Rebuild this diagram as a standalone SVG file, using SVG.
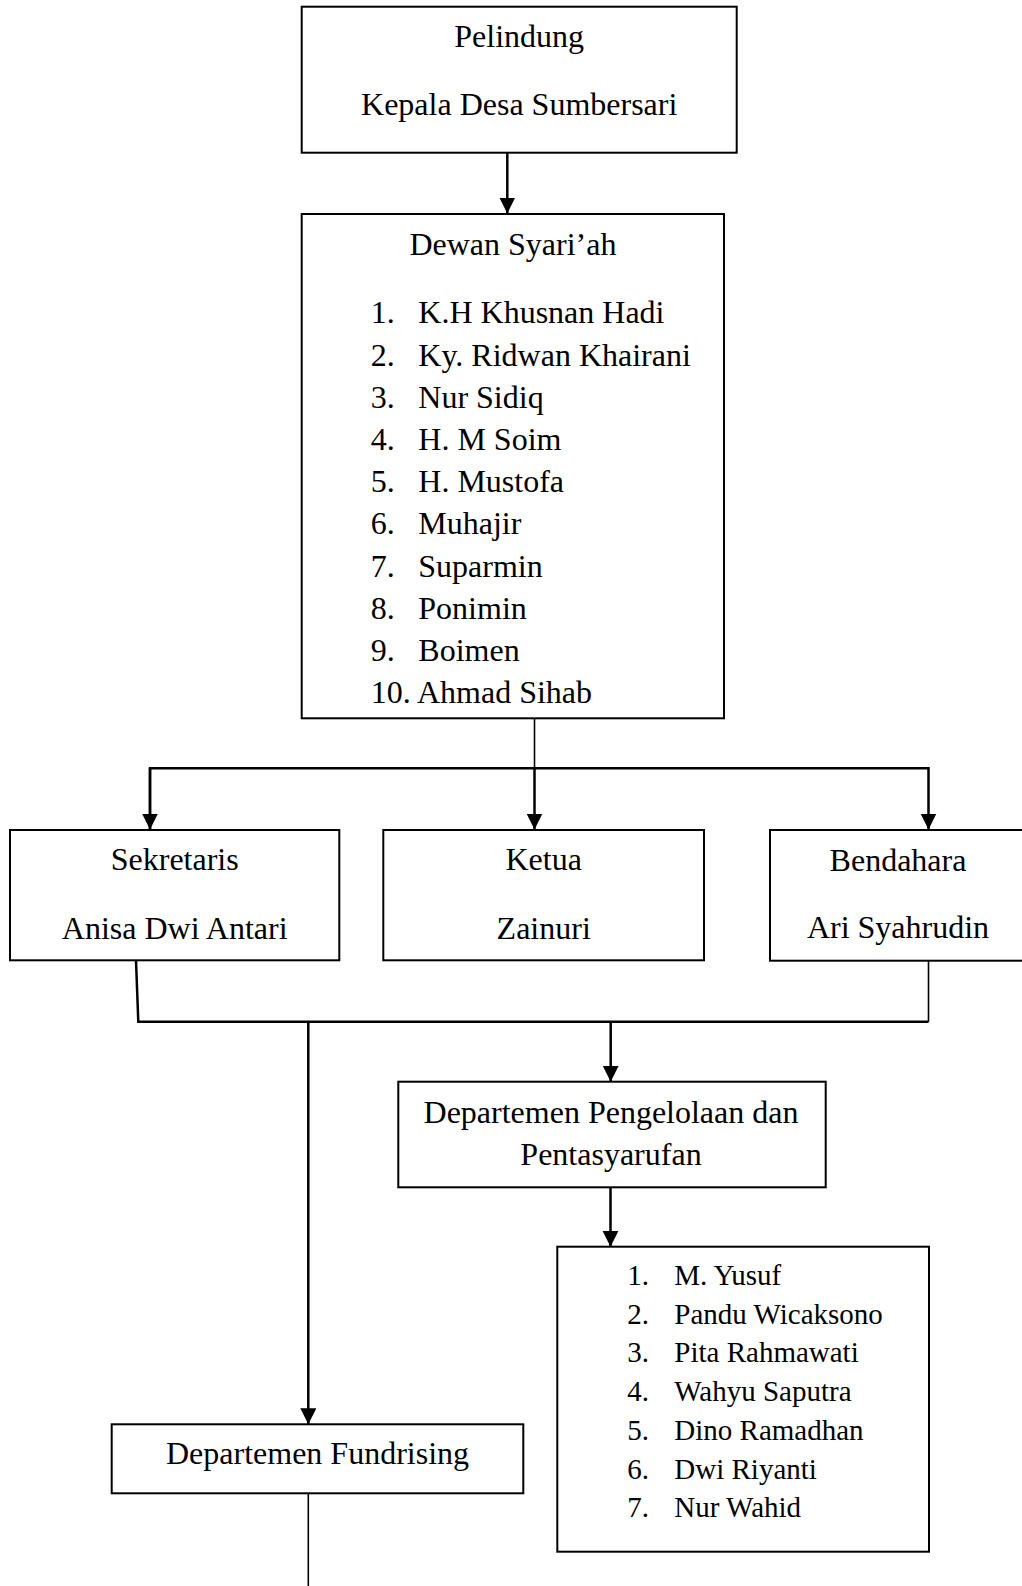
<svg xmlns="http://www.w3.org/2000/svg" width="1022" height="1586" viewBox="0 0 1022 1586">
<style>
.box{fill:#fff;stroke:#000;stroke-width:2}
text{font-family:"Liberation Serif","Times New Roman",serif;fill:#000}
.t{font-size:32px}
.c{text-anchor:middle}
.s{font-size:29px}
.ln{fill:none;stroke:#000;stroke-width:2.5}
.thin{fill:none;stroke:#000;stroke-width:1.6}
</style>
<defs>
<marker id="ah" markerUnits="userSpaceOnUse" markerWidth="17" markerHeight="17" refX="16" refY="8" orient="auto" viewBox="0 0 17 17">
<path d="M0,0 L16,8 L0,16 Z" fill="#000"/>
</marker>
</defs>
<rect width="1022" height="1586" fill="#fff"/>
<g id="connectors">
<line class="ln" x1="507.3" y1="152.7" x2="507.3" y2="213.5" marker-end="url(#ah)"/>
<line class="thin" x1="534.5" y1="719" x2="534.5" y2="768.3"/>
<polyline class="ln" points="150,829.5 150,768.3 928.5,768.3 928.5,829.5" marker-end="url(#ah)"/>
<line class="ln" x1="150" y1="768.3" x2="150" y2="829.5" marker-end="url(#ah)"/>
<line class="ln" x1="534.5" y1="768.3" x2="534.5" y2="829.5" marker-end="url(#ah)"/>
<polyline class="ln" points="136,960.5 138.3,1021.8 928.5,1021.8"/>
<line class="thin" x1="928.5" y1="960.7" x2="928.5" y2="1021.8"/>
<line class="ln" x1="610.7" y1="1021.8" x2="610.7" y2="1081.7" marker-end="url(#ah)"/>
<line class="ln" x1="610.5" y1="1187.3" x2="610.5" y2="1246.7" marker-end="url(#ah)"/>
<line class="ln" x1="308.3" y1="1021.8" x2="308.3" y2="1424.3" marker-end="url(#ah)"/>
<line class="thin" x1="308.3" y1="1493.3" x2="308.3" y2="1586"/>
</g>
<g id="pelindung">
<rect class="box" x="301.7" y="6.7" width="435" height="146"/>
<text class="t c" x="519.2" y="47">Pelindung</text>
<text class="t c" x="519.2" y="115">Kepala Desa Sumbersari</text>
</g>
<g id="dewan">
<rect class="box" x="301.7" y="214" width="422.3" height="504.3"/>
<text class="t c" x="512.9" y="255">Dewan Syari’ah</text>
<g class="t">
<text x="370.7" y="323.3">1.</text><text x="418.3" y="323.3">K.H Khusnan Hadi</text>
<text x="370.7" y="365.5">2.</text><text x="418.3" y="365.5">Ky. Ridwan Khairani</text>
<text x="370.7" y="407.7">3.</text><text x="418.3" y="407.7">Nur Sidiq</text>
<text x="370.7" y="449.9">4.</text><text x="418.3" y="449.9">H. M Soim</text>
<text x="370.7" y="492.1">5.</text><text x="418.3" y="492.1">H. Mustofa</text>
<text x="370.7" y="534.3">6.</text><text x="418.3" y="534.3">Muhajir</text>
<text x="370.7" y="576.5">7.</text><text x="418.3" y="576.5">Suparmin</text>
<text x="370.7" y="618.7">8.</text><text x="418.3" y="618.7">Ponimin</text>
<text x="370.7" y="660.9">9.</text><text x="418.3" y="660.9">Boimen</text>
<text x="370.7" y="703.1">10. Ahmad Sihab</text>
</g>
</g>
<g id="sekretaris">
<rect class="box" x="10" y="830" width="329.3" height="130.3"/>
<text class="t c" x="174.7" y="870">Sekretaris</text>
<text class="t c" x="174.7" y="939">Anisa Dwi Antari</text>
</g>
<g id="ketua">
<rect class="box" x="383.3" y="830" width="320.7" height="130.3"/>
<text class="t c" x="543.7" y="870">Ketua</text>
<text class="t c" x="543.7" y="939">Zainuri</text>
</g>
<g id="bendahara">
<rect class="box" x="770" y="830" width="256" height="130.7"/>
<text class="t c" x="898" y="870.7">Bendahara</text>
<text class="t c" x="898" y="938.3">Ari Syahrudin</text>
</g>
<g id="dept-pengelolaan">
<rect class="box" x="398.3" y="1081.7" width="427.4" height="105.6"/>
<text class="t c" x="611" y="1123.3">Departemen Pengelolaan dan</text>
<text class="t c" x="611" y="1165">Pentasyarufan</text>
</g>
<g id="anggota-pengelolaan">
<rect class="box" x="557.3" y="1246.7" width="371.7" height="305"/>
<g class="s">
<text x="627.3" y="1285">1.</text><text x="674.3" y="1285">M. Yusuf</text>
<text x="627.3" y="1323.7">2.</text><text x="674.3" y="1323.7">Pandu Wicaksono</text>
<text x="627.3" y="1362.4">3.</text><text x="674.3" y="1362.4">Pita Rahmawati</text>
<text x="627.3" y="1401.1">4.</text><text x="674.3" y="1401.1">Wahyu Saputra</text>
<text x="627.3" y="1439.8">5.</text><text x="674.3" y="1439.8">Dino Ramadhan</text>
<text x="627.3" y="1478.5">6.</text><text x="674.3" y="1478.5">Dwi Riyanti</text>
<text x="627.3" y="1517.2">7.</text><text x="674.3" y="1517.2">Nur Wahid</text>
</g>
</g>
<g id="dept-fundrising">
<rect class="box" x="111.7" y="1424.3" width="411.6" height="69"/>
<text class="t c" x="317.5" y="1464">Departemen Fundrising</text>
</g>
</svg>
